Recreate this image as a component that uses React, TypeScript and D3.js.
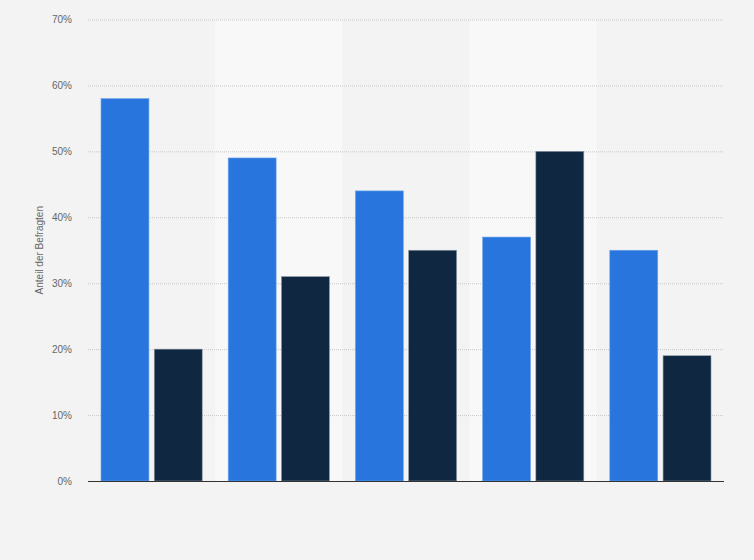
import React, { useEffect, useRef } from 'react';
import * as d3 from 'd3';

const groups = ['A', 'B', 'C', 'D', 'E'];
const seriesOne = [58, 49, 44, 37, 35];
const seriesTwo = [20, 31, 35, 50, 19];
const yTicks = [0, 10, 20, 30, 40, 50, 60, 70];

const width = 754;
const height = 560;

const App: React.FC = () => {
  const ref = useRef<SVGSVGElement>(null);

  useEffect(() => {
    document.body.style.margin = '0';
    if (!ref.current) return;
    const svg = d3.select(ref.current);
    svg.selectAll('*').remove();

    const margin = { top: 19.5, right: 30, bottom: 79, left: 88 };
    const w = width - margin.left - margin.right;
    const h = height - margin.top - margin.bottom;

    svg.append('rect').attr('width', width).attr('height', height).attr('fill', '#f3f3f3');

    const g = svg.append('g').attr('transform', `translate(${margin.left},${margin.top})`);

    const x = d3.scaleBand<string>().domain(groups).range([0, w]);
    const inner = d3
      .scaleBand<number>()
      .domain([0, 1])
      .range([13, x.bandwidth() - 13])
      .paddingInner(0.1);
    const y = d3.scaleLinear().domain([0, 70]).range([h, 0]);

    // alternating column bands
    g.selectAll('rect.band')
      .data(groups)
      .enter()
      .append('rect')
      .attr('x', d => x(d)!)
      .attr('y', 0)
      .attr('width', x.bandwidth())
      .attr('height', h)
      .attr('fill', (_, i) => (i % 2 === 1 ? '#f8f8f8' : '#f3f3f3'));

    // grid
    g.selectAll('line.grid')
      .data(yTicks.filter(t => t > 0))
      .enter()
      .append('line')
      .attr('x1', 0)
      .attr('x2', w)
      .attr('y1', d => y(d) + 0.5)
      .attr('y2', d => y(d) + 0.5)
      .attr('stroke', '#c8c8c8')
      .attr('stroke-width', 1)
      .attr('stroke-dasharray', '1,1');

    g.selectAll('text.tick')
      .data(yTicks)
      .enter()
      .append('text')
      .attr('x', -16)
      .attr('y', d => y(d))
      .attr('dy', '0.35em')
      .attr('text-anchor', 'end')
      .attr('font-family', 'Arial, "Liberation Sans", sans-serif')
      .attr('font-size', 10)
      .attr('fill', '#666')
      .text(d => `${d}%`);

    const colors = ['#2876dd', '#0f2741'];
    [seriesOne, seriesTwo].forEach((vals, s) => {
      g.selectAll(`rect.s${s}`)
        .data(vals)
        .enter()
        .append('rect')
        .attr('x', (_, i) => x(groups[i])! + inner(s)!)
        .attr('y', d => y(d))
        .attr('width', inner.bandwidth())
        .attr('height', d => h - y(d))
        .attr('fill', colors[s])
        .attr('stroke', s === 0 ? '#6fa3ea' : '#8a96a3')
        .attr('stroke-width', 0.6);
    });

    g.append('line')
      .attr('x1', 0)
      .attr('x2', w)
      .attr('y1', h + 0.5)
      .attr('y2', h + 0.5)
      .attr('stroke', '#333')
      .attr('stroke-width', 1);

    svg
      .append('text')
      .attr('transform', `translate(43,${margin.top + h / 2}) rotate(-90)`)
      .attr('text-anchor', 'middle')
      .attr('font-family', 'Arial, "Liberation Sans", sans-serif')
      .attr('font-size', 10)
      .attr('fill', '#666')
      .text('Anteil der Befragten');
  }, []);

  return <svg ref={ref} width={width} height={height} style={{ display: 'block' }} />;
};

export default App;
